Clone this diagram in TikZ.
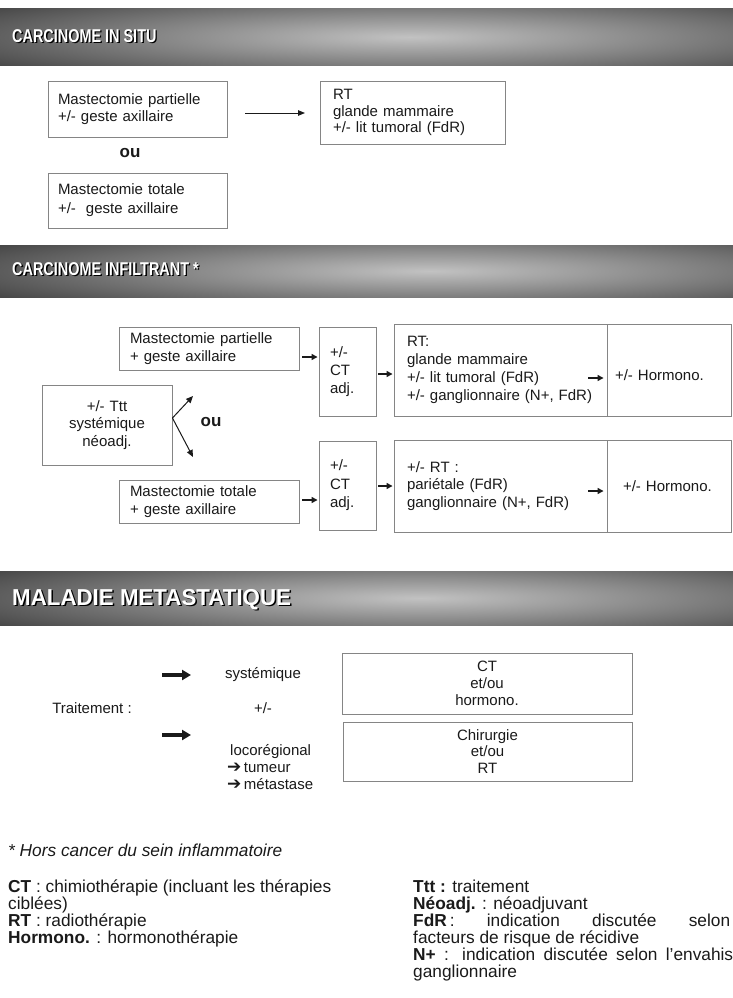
\documentclass[tikz,border=0pt]{standalone}
\usepackage{fontspec}
\setmainfont{Liberation Sans}
\newfontfamily\hdfont[FakeStretch=0.78]{Liberation Sans}
\newfontfamily\hdfontw[FakeStretch=0.97]{Liberation Sans}
\newfontfamily\symfont{DejaVu Sans}
\usetikzlibrary{arrows.meta}
\definecolor{txt}{HTML}{1A1A1A}
\definecolor{bord}{HTML}{858585}
\definecolor{hdark}{HTML}{1E1E1E}
\definecolor{hlight}{HTML}{C2C2C2}
\begin{document}
\begin{tikzpicture}[x=1pt,y=-1pt,
  bx/.style={draw=bord, line width=0.9pt, inner sep=0pt, text=txt, align=left,
    font=\fontsize{15}{17.5}\selectfont},
  bxc/.style={bx, align=center},
  plain/.style={inner sep=0pt, text=txt, font=\fontsize{15}{17.5}\selectfont},
  lg/.style={inner sep=0pt, text=txt, anchor=base west, font=\fontsize{17.3}{19}\selectfont},
  hdtext/.style={inner sep=0pt, anchor=base west, text=white},
  hdshadow/.style={inner sep=0pt, anchor=base west, text=black},
  tarr/.style={draw=txt, line width=0.9pt, -{Triangle[length=7pt,width=5.5pt]}},
  sarr/.style={draw=txt, line width=1.3pt, -{Triangle[length=6pt,width=6pt]}},
  oarr/.style={draw=txt, line width=1pt, -{Triangle[length=7pt,width=6pt]}},
  harr/.style={draw=txt, line width=3.6pt, -{Triangle[length=9pt,width=10pt]}}
]
\useasboundingbox (0,0) rectangle (733,998);
\fill[white] (0,0) rectangle (733,998);

% ---------- header 1
\fill[hdark] (0,9) rectangle (733,66);
\begin{scope}
  \clip (0,9) rectangle (733,66);
  \shade[inner color=hlight, outer color=hdark] (410,37) ellipse [x radius=690, y radius=66];
\end{scope}
\node[hdshadow, font=\hdfont\bfseries\fontsize{18.5}{21}\selectfont] (h1s) at (13.4,43.9) {CARCINOME IN SITU};
\node[hdtext, font=\hdfont\bfseries\fontsize{18.5}{21}\selectfont] (h1t) at (12,42.5) {CARCINOME IN SITU};

% ---------- section 1
\node[bx, minimum width=179pt, minimum height=56pt, text width=159pt] (s1a) at (137.5,109)
  {Mastectomie partielle\\+/- geste axillaire};
\node[bx, minimum width=185pt, minimum height=63pt, text width=159pt, font=\fontsize{15}{16.5}\selectfont] (s1rt) at (412.5,112.5)
  {RT\\glande mammaire\\+/- lit tumoral (FdR)};
\node[bx, minimum width=179pt, minimum height=55pt, text width=159pt, font=\fontsize{15}{19}\selectfont] (s1b) at (137.5,200.5)
  {Mastectomie totale\\+/-\ \ geste axillaire};
\node[plain, font=\bfseries\fontsize{17}{20}\selectfont] (ou1) at (130,153) {ou};
\coordinate (s1f) at (245,113);
\coordinate (s1t) at (305,113);
\draw[tarr] (s1f) -- (s1t);

% ---------- header 2
\fill[hdark] (0,245) rectangle (733,297);
\begin{scope}
  \clip (0,245) rectangle (733,297);
  \shade[inner color=hlight, outer color=hdark] (430,271) ellipse [x radius=690, y radius=62];
\end{scope}
\node[hdshadow, font=\hdfont\bfseries\fontsize{18.5}{21}\selectfont] (h2s) at (13.4,276.9) {CARCINOME INFILTRANT *};
\node[hdtext, font=\hdfont\bfseries\fontsize{18.5}{21}\selectfont] (h2t) at (12,275.5) {CARCINOME INFILTRANT *};

% ---------- section 2
\node[bxc, minimum width=130pt, minimum height=80pt, text width=110pt] (ttt) at (107,425)
  {+/- Ttt\\systémique\\néoadj.};
\node[bx, minimum width=180pt, minimum height=43pt, text width=158pt] (mp) at (209,348.5)
  {Mastectomie partielle\\+ geste axillaire};
\node[bx, minimum width=180pt, minimum height=43pt, text width=158pt] (mt) at (209,501.5)
  {Mastectomie totale\\+ geste axillaire};
\node[bx, minimum width=57pt, minimum height=89pt, text width=35pt, font=\fontsize{15}{18}\selectfont] (ct1) at (347.5,371.5)
  {+/-\\CT\\adj.};
\node[bx, minimum width=57pt, minimum height=89pt, text width=35pt, font=\fontsize{15}{18.5}\selectfont] (ct2) at (347.5,485.5)
  {+/-\\CT\\adj.};
\node[bx, minimum width=213pt, minimum height=92pt, text width=187pt, font=\fontsize{15}{18.2}\selectfont] (rt1) at (500.5,370)
  {RT:\\glande mammaire\\+/- lit tumoral (FdR)\\+/- ganglionnaire (N+, FdR)};
\node[bx, minimum width=213pt, minimum height=92pt, text width=187pt, font=\fontsize{15}{17.5}\selectfont] (rt2) at (500.5,486)
  {+/- RT :\\pariétale (FdR)\\ganglionnaire (N+, FdR)};
\node[bx, minimum width=124pt, minimum height=92pt, text width=108pt, text height=20pt, text depth=0pt] (hm1) at (669,370)
  {+/- Hormono.};
\node[bx, minimum width=124pt, minimum height=92pt, text width=100pt] (hm2) at (669,486)
  {\hspace*{4pt}+/- Hormono.};
\node[plain, font=\bfseries\fontsize{17}{20}\selectfont] (ou2) at (211,422) {ou};

\coordinate (ouv) at (ttt.east |- 0,418);
\coordinate (ouu) at (193,396);
\coordinate (oud) at (193,457);
\draw[oarr] (ouv) -- (ouu);
\draw[oarr] (ouv) -- (oud);
\draw[sarr, shorten <=3pt, shorten >=1pt] (mp.east |- 0,357) -- (ct1.west |- 0,357);
\draw[sarr, shorten <=2pt, shorten >=1pt] (ct1.east |- 0,374) -- (rt1.west |- 0,374);
\coordinate (h1a) at (588,378);
\draw[sarr, shorten >=3pt] (h1a) -- (hm1.west |- h1a);
\draw[sarr, shorten <=3pt, shorten >=1pt] (mt.east |- 0,500) -- (ct2.west |- 0,500);
\draw[sarr, shorten <=2pt, shorten >=1pt] (ct2.east |- 0,486) -- (rt2.west |- 0,486);
\coordinate (h2a) at (588,491);
\draw[sarr, shorten >=3pt] (h2a) -- (hm2.west |- h2a);

% ---------- header 3
\fill[hdark] (0,571) rectangle (733,625);
\begin{scope}
  \clip (0,571) rectangle (733,625);
  \shade[inner color=hlight, outer color=hdark] (420,598) ellipse [x radius=690, y radius=64];
\end{scope}
\node[hdshadow, font=\hdfontw\bfseries\fontsize{23}{26}\selectfont] (h3s) at (13.5,606.5) {MALADIE METASTATIQUE};
\node[hdtext, font=\hdfontw\bfseries\fontsize{23}{26}\selectfont] (h3t) at (12,605) {MALADIE METASTATIQUE};

% ---------- section 3
\node[bxc, minimum width=290pt, minimum height=61pt, text width=270pt, font=\fontsize{15}{17}\selectfont] (m1) at (487,683.5)
  {CT\\et/ou\\hormono.};
\node[bxc, minimum width=289pt, minimum height=59pt, text width=270pt, font=\fontsize{15}{16.5}\selectfont] (m2) at (487.5,751.5)
  {Chirurgie\\et/ou\\RT};
\node[plain] (trt) at (92,708) {Traitement :};
\node[plain] (sys) at (263,675) {systémique};
\node[plain] (pm) at (263,708) {+/-};
\node[plain, anchor=north west, align=left, font=\fontsize{15}{17}\selectfont] (loc) at (227,744)
  {\hspace*{3pt}locorégional\\{\symfont\fontsize{17}{17}\selectfont ➔}\,tumeur\\{\symfont\fontsize{17}{17}\selectfont ➔}\,métastase};
\coordinate (t1a) at (162,675);
\coordinate (t1b) at (191,675);
\coordinate (t2a) at (162,735);
\coordinate (t2b) at (191,735);
\draw[harr] (t1a) -- (t1b);
\draw[harr] (t2a) -- (t2b);

% ---------- legend
\node[lg, font=\itshape\fontsize{17.3}{19}\selectfont] (fn) at (8,856) {* Hors cancer du sein inflammatoire};
\node[lg] (l1) at (8,892) {\textbf{CT} : chimiothérapie (incluant les thérapies};
\node[lg] (l2) at (8,909) {ciblées)};
\node[lg] (l3) at (8,926) {\textbf{RT} : radiothérapie};
\node[lg] (l4) at (8,943) {\textbf{Hormono.} : hormonothérapie};
\node[lg] (r1) at (413,892) {\textbf{Ttt :} traitement};
\node[lg] (r2) at (413,909) {\textbf{Néoadj.} : néoadjuvant};
\node[lg] (r3) at (413,926) {\makebox[317pt][s]{\textbf{FdR}\kern3pt: indication discutée selon}};
\node[lg] (r4) at (413,943) {facteurs de risque de récidive};
\node[lg] (r5) at (413,960) {\makebox[320pt][s]{\textbf{N+} : indication discutée selon l'envahis}};
\node[lg] (r6) at (413,977) {ganglionnaire};
\end{tikzpicture}
\end{document}
